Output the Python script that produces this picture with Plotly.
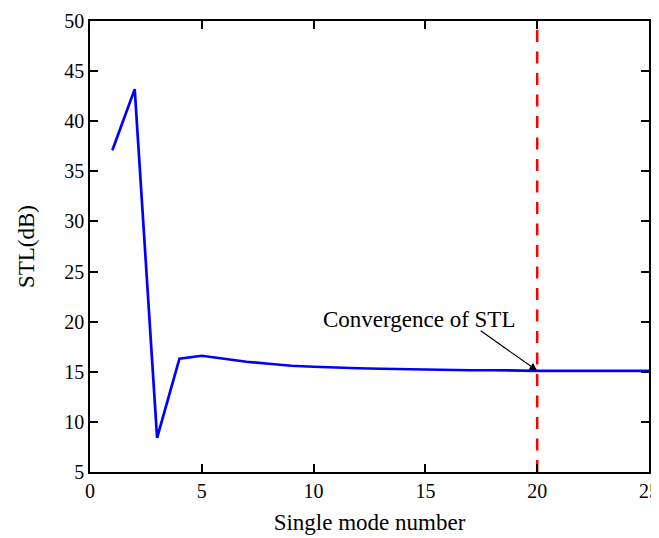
import plotly.graph_objects as go

mode_number = list(range(1, 26))
stl_db = [37.1, 43.2, 8.4, 16.3, 16.6, 16.3, 16.0, 15.8, 15.6, 15.5,
          15.4, 15.35, 15.3, 15.25, 15.2, 15.2, 15.15, 15.15, 15.1, 15.1,
          15.1, 15.1, 15.1, 15.1, 15.1]
conv_x = 20
conv_y = 15.1
x_ticks = [0, 5, 10, 15, 20, 25]
y_ticks = [5, 10, 15, 20, 25, 30, 35, 40, 45, 50]

font_family = "Liberation Serif, Times New Roman, serif"

fig = go.Figure()
fig.add_trace(go.Scatter(x=mode_number, y=stl_db, mode="lines",
                         line=dict(color="#0000ff", width=2.7), showlegend=False))
fig.add_trace(go.Scatter(x=[conv_x, conv_x], y=[5, 50], mode="lines",
                         line=dict(color="#ff0000", width=2.5, dash="12px,9.5px"),
                         showlegend=False))

fig.add_annotation(x=14.7, y=20.2, text="Convergence of STL", showarrow=False,
                   font=dict(family=font_family, size=23, color="black"))
fig.add_annotation(x=conv_x, y=conv_y, text="", showarrow=True, arrowhead=2,
                   arrowsize=1.3, arrowwidth=1.2, arrowcolor="black",
                   ax=-58, ay=-41)

axis_common = dict(showline=True, linecolor="black", linewidth=1.5, mirror="ticks",
                   ticks="inside", ticklen=8, tickwidth=1.5, tickcolor="black",
                   showgrid=False, zeroline=False, automargin=False,
                   tickfont=dict(family=font_family, size=20, color="black"))

# page body has an 8px margin in the browser; compensate so the plot area lands correctly
fig.update_layout(
    width=651, height=530,
    margin=dict(l=82, r=10, t=13, b=66),
    plot_bgcolor="white", paper_bgcolor="white",
    xaxis=dict(range=[0, 25], tickvals=x_ticks,
               title=dict(text="Single mode number", standoff=13,
                          font=dict(family=font_family, size=23, color="black")),
               **axis_common),
    yaxis=dict(range=[5, 50], tickvals=y_ticks,
               title=dict(text="STL(dB)", standoff=23,
                          font=dict(family=font_family, size=23, color="black")),
               **axis_common),
)

fig.write_html("out.html")
